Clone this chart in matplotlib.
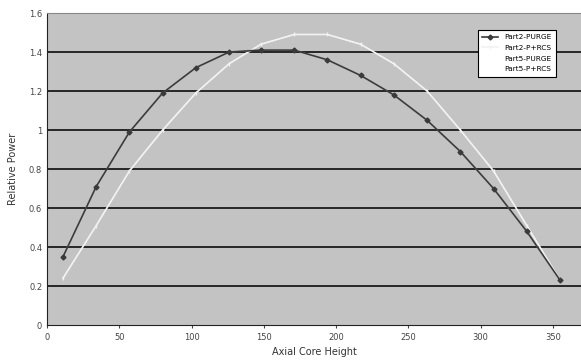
import numpy as np
from matplotlib import pyplot as plt
from matplotlib.ticker import FuncFormatter

# axial positions of the nodes
height = [11, 34, 57, 80, 103, 126, 148, 171, 194, 217, 240, 263, 286, 309, 332, 355]

part2_purge = [0.35, 0.71, 0.99, 1.19, 1.32, 1.40, 1.41, 1.41, 1.36, 1.28, 1.18, 1.05, 0.89, 0.70, 0.48, 0.23]
part2_prcs = [0.24, 0.51, 0.79, 1.00, 1.19, 1.34, 1.44, 1.49, 1.49, 1.44, 1.34, 1.20, 1.00, 0.79, 0.51, 0.23]
part5_purge = [0.35, 0.71, 0.99, 1.19, 1.32, 1.40, 1.41, 1.41, 1.36, 1.28, 1.18, 1.05, 0.89, 0.70, 0.48, 0.23]
part5_prcs = [0.24, 0.51, 0.79, 1.00, 1.19, 1.34, 1.44, 1.49, 1.49, 1.44, 1.34, 1.20, 1.00, 0.79, 0.51, 0.23]

labels = ['Part2-PURGE', 'Part2-P+RCS', 'Part5-PURGE', 'Part5-P+RCS']
x_ticks = [0, 50, 100, 150, 200, 250, 300, 350]
y_ticks = [0, 0.2, 0.4, 0.6, 0.8, 1.0, 1.2, 1.4, 1.6]

fig = plt.figure(figsize=(5.81, 3.62), dpi=100)
ax = fig.add_axes([0.081, 0.102, 0.919, 0.862])
ax.set_facecolor('#c3c3c3')

for y in y_ticks[1:]:
    ax.axhline(y, color='#1a1a1a', lw=1.3, zorder=1)

ax.plot(height, part5_purge, color='white', lw=0.6, zorder=2, label=labels[2])
ax.plot(height, part5_prcs, color='white', lw=0.6, zorder=2, label=labels[3])
ax.plot(height, part2_purge, color='#3a3a3a', lw=1.2, marker='D', ms=2.5, zorder=4, label=labels[0])
ax.plot(height, part2_prcs, color='#f2f2f2', lw=1.2, marker='|', ms=3, zorder=3, label=labels[1])

handles, labs = ax.get_legend_handles_labels()
order = [2, 3, 0, 1]
leg = ax.legend([handles[i] for i in order], [labs[i] for i in order],
                loc='upper right', bbox_to_anchor=(0.96, 0.958), fontsize=5.3,
                frameon=True, fancybox=False, edgecolor='black', framealpha=1,
                handlelength=2.2, borderpad=0.6, labelspacing=0.6)
leg.get_frame().set_linewidth(0.8)

ax.set_xlim(0, 369.5)
ax.set_ylim(0, 1.6)
ax.set_xticks(x_ticks)
ax.set_yticks(y_ticks)
ax.yaxis.set_major_formatter(FuncFormatter(lambda v, p: ('%g' % round(v, 1))))
ax.tick_params(axis='both', labelsize=6, colors='#444444', length=2)
ax.tick_params(axis='y', length=0)
ax.spines['right'].set_visible(False)
ax.spines['top'].set_color('#888888')
for s in ['left', 'bottom']:
    ax.spines[s].set_color('#222222')

ax.set_xlabel('Axial Core Height', fontsize=7, color='#333333', labelpad=4)
ax.set_ylabel('Relative Power', fontsize=7, color='#333333', labelpad=8)

fig.savefig('out.png', dpi=100)
